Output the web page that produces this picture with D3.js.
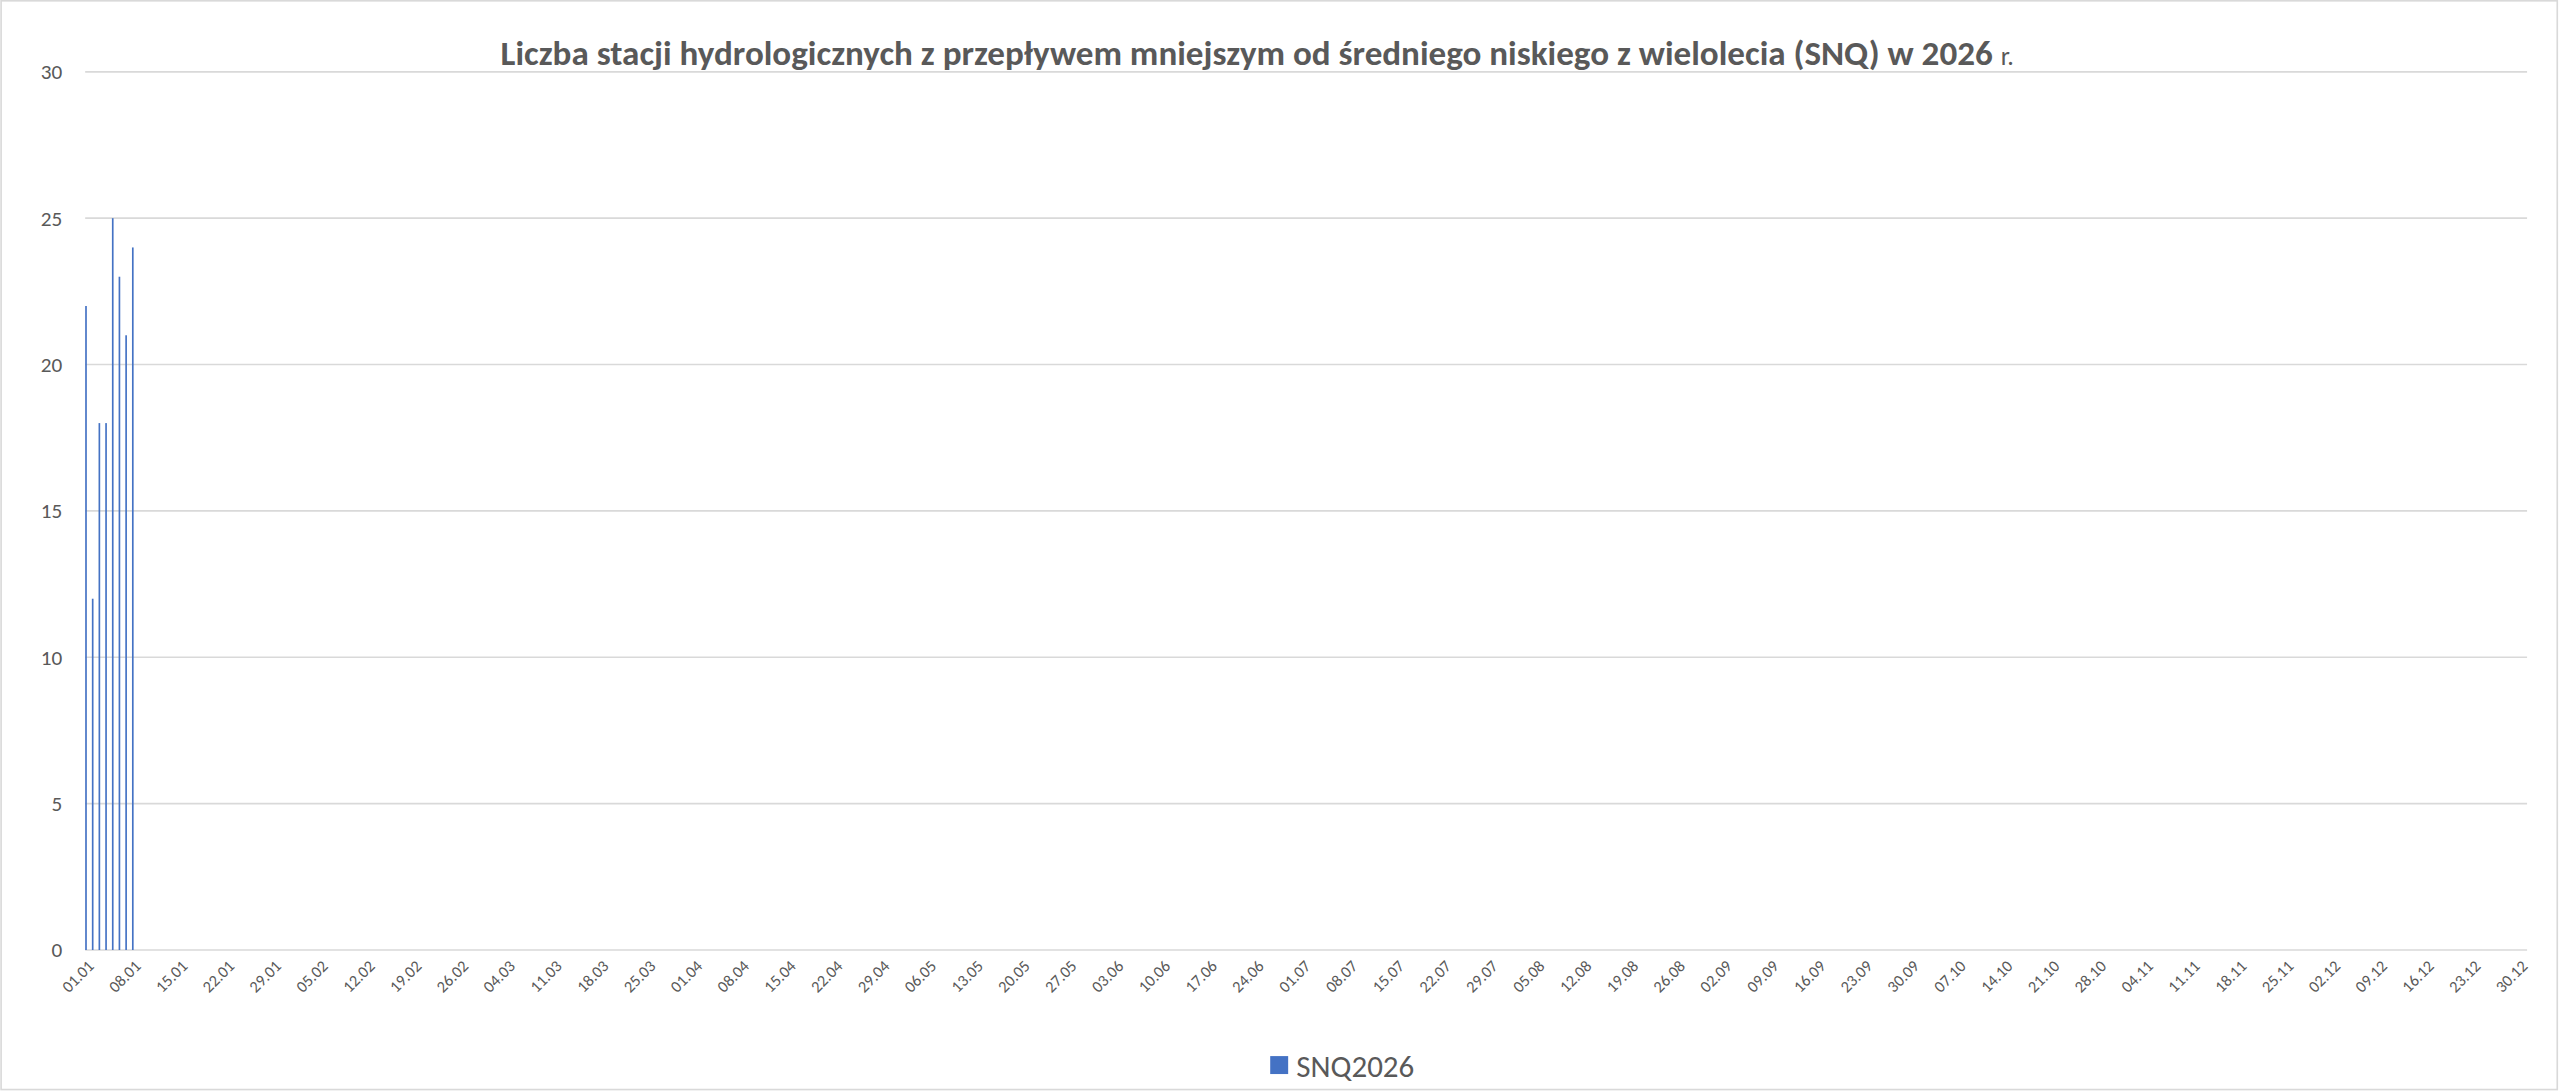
<!DOCTYPE html>
<html lang="pl">
<head>
<meta charset="UTF-8">
<title>SNQ 2026</title>
<style>
    body { margin: 0; background: #fff; font-family: Calibri, Carlito, "Open Sans", sans-serif; }
    svg { display: block; }
</style>
</head>
<body>
<svg id="chart" width="2560" height="1092" viewBox="0 0 1568 669"></svg>
<script src="https://d3js.org/d3.v7.min.js"></script>
<script>
    // dane
    var seriesName = "SNQ2026";
    var values = [22, 12, 18, 18, 25, 23, 21, 24];
    var yTicks = [0, 5, 10, 15, 20, 25, 30];
    var titleText = "Liczba stacji hydrologicznych z przepływem mniejszym od średniego niskiego z wielolecia (SNQ) w 2026 ";

    // kategorie: 366 dni (oś w arkuszu zawiera 29.02)
    var fmt = d3.timeFormat("%d.%m");
    var days = d3.timeDays(new Date(2024, 0, 1), new Date(2025, 0, 1)).map(fmt);

    var svg = d3.select("#chart");
    var mLeft = 52, mRight = 1548, mTop = 44, mBottom = 582;

    svg.append("rect").attr("x", 0.5).attr("y", 0.5).attr("width", 1566).attr("height", 667)
        .attr("fill", "#fff").attr("stroke", "#d9d9d9");

    var x = d3.scaleBand().domain(days).range([mLeft, mRight]).paddingInner(0.75).paddingOuter(0);
    var y = d3.scaleLinear().domain([0, 30]).range([mBottom, mTop]);

    // siatka
    svg.append("g").selectAll("line").data(yTicks).join("line")
        .attr("x1", mLeft).attr("x2", mRight)
        .attr("y1", d => y(d)).attr("y2", d => y(d))
        .attr("stroke", "#d9d9d9").attr("stroke-width", 1);

    svg.append("g").selectAll("text").data(yTicks).join("text")
        .attr("x", 38).attr("y", d => y(d)).attr("dy", "0.35em")
        .attr("text-anchor", "end").attr("fill", "#595959").attr("font-size", 13)
        .text(d => d);

    // słupki
    svg.append("g").selectAll("rect").data(values).join("rect")
        .attr("x", (d, i) => x(days[i]))
        .attr("width", x.bandwidth())
        .attr("y", d => y(d))
        .attr("height", d => y(0) - y(d))
        .attr("fill", "#4472c4");

    // oś X co 7 dni
    var xlab = days.filter((d, i) => i % 7 === 0);
    svg.append("g").selectAll("text").data(xlab).join("text")
        .attr("transform", d => "translate(" + (x(d) + x.bandwidth() / 2 + 3) + "," + (mBottom + 8) + ") rotate(-45)")
        .attr("text-anchor", "end").attr("dy", "0.35em")
        .attr("fill", "#595959").attr("font-size", 10)
        .text(d => d);

    // tytuł
    var t = svg.append("text").attr("x", 770).attr("y", 40).attr("text-anchor", "middle")
        .attr("fill", "#595959").attr("font-size", 21.5).attr("font-weight", "bold");
    t.append("tspan").text(titleText);
    t.append("tspan").attr("font-weight", "normal").attr("font-size", 16).text("r.");

    // legenda
    svg.append("rect").attr("x", 778).attr("y", 647).attr("width", 11).attr("height", 11).attr("fill", "#4472c4");
    svg.append("text").attr("x", 794).attr("y", 653).attr("dy", "0.35em")
        .attr("fill", "#595959").attr("font-size", 19).text(seriesName);
</script>
</body>
</html>
